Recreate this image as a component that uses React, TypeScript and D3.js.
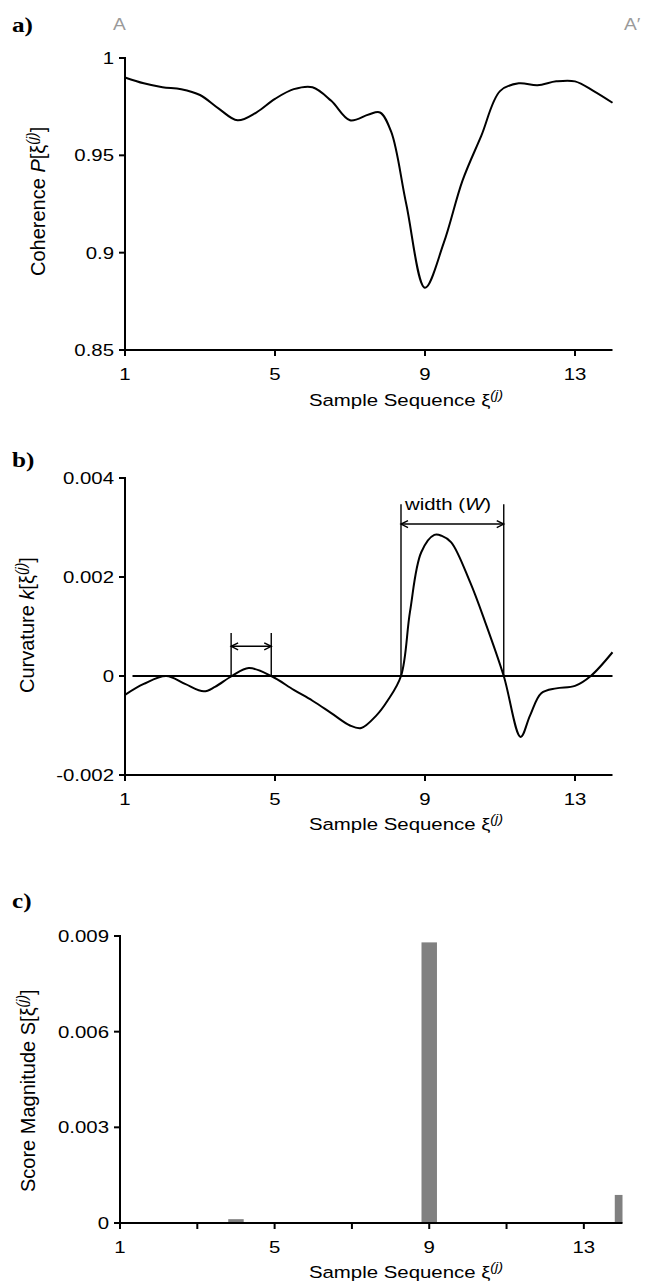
import React from 'react';
import * as d3 from 'd3';

// ---- data ----
const coherenceX = [1, 1.5, 2, 2.5, 3, 3.5, 4, 4.5, 5, 5.5, 6, 6.5, 7, 7.5, 7.8, 8.1, 8.5, 9, 9.5, 10, 10.5, 11, 11.5, 12, 12.5, 13, 13.5, 14];
const coherenceY = [0.99, 0.987, 0.985, 0.984, 0.981, 0.974, 0.968, 0.972, 0.979, 0.984, 0.985, 0.978, 0.968, 0.971, 0.972, 0.962, 0.925, 0.882, 0.905, 0.937, 0.96, 0.983, 0.987, 0.986, 0.988, 0.988, 0.983, 0.977];

const curvatureX = [1, 1.5, 2.1, 2.6, 3.1, 3.4, 3.85, 4.3, 4.9, 5.5, 6, 6.5, 7, 7.3, 7.7, 8, 8.36, 8.6, 8.9, 9.25, 9.45, 9.7, 10.2, 10.6, 11.1, 11.55, 11.8, 12.1, 12.5, 13, 13.42, 14];
const curvatureY = [-0.00038, -0.00016, 0, -0.00016, -0.00031, -0.00022, 0, 0.00016, 0, -0.00028, -0.0005, -0.00075, -0.001, -0.00105, -0.0008, -0.0005, 0, 0.0013, 0.0025, 0.00285, 0.00283, 0.0027, 0.0019, 0.0011, 0, -0.00123, -0.0008, -0.00035, -0.00025, -0.0002, 0, 0.00048];

const scoreX = [4, 9, 14];
const scoreY = [0.00012, 0.0088, 0.00088];

const xTicksAB = [1, 5, 9, 13];
const xTicksC = [1, 3, 5, 7, 9, 11, 13];
const xTickLabelsC = [1, 5, 9, 13];
const yTicksA = [0.85, 0.9, 0.95, 1];
const yTickLabelsA = ['0.85', '0.9', '0.95', '1'];
const yTicksB = [-0.002, 0, 0.002, 0.004];
const yTickLabelsB = ['-0.002', '0', '0.002', '0.004'];
const yTicksC = [0, 0.003, 0.006, 0.009];
const yTickLabelsC = ['0', '0.003', '0.006', '0.009'];

// width annotations (x from / to, bracket top, arrow level)
const bracketFrom = [3.83, 8.36];
const bracketTo = [4.9, 11.1];
const bracketTop = [0.00087, 0.00347];
const bracketArrow = [0.0006, 0.00307];

const SANS = "'Liberation Sans', Arial, Helvetica, sans-serif";
const SERIF = "'Liberation Serif', 'Times New Roman', serif";
const SX = 1.2;

function HText({ x, y, anchor = 'middle', size = 17, fill = '#000', family = SANS, weight = 'normal', children }: any) {
  return (
    <text transform={`translate(${x},${y}) scale(${SX},1)`} textAnchor={anchor} fontSize={size} fill={fill} fontFamily={family} fontWeight={weight}>
      {children}
    </text>
  );
}

function VText({ x, y, children }: any) {
  return (
    <text transform={`translate(${x},${y}) rotate(-90)`} textAnchor="start" fontSize={20} fontFamily={SANS}>
      {children}
    </text>
  );
}

const Sup = ({ size = 12, dy = -7 }: any) => (
  <tspan fontSize={size} dy={dy} fontStyle="italic">(j)</tspan>
);

function XTitle({ y }: any) {
  return (
    <HText x={406} y={y}>
      Sample Sequence ξ<Sup />
    </HText>
  );
}

function Axes({ x, y, xTicks, xLabels, yTicks, yLabels }: any) {
  const [x0, x1] = x.range();
  const [y0, y1] = y.range();
  return (
    <g>
      <line x1={x0} x2={x1} y1={y0} y2={y0} stroke="#000" strokeWidth={2} />
      <line x1={x0} x2={x0} y1={y0 + 1} y2={y1 - 1} stroke="#000" strokeWidth={2} />
      {xTicks.map((t: number) => (
        <line key={'xt' + t} x1={x(t)} x2={x(t)} y1={y0} y2={y0 + 6} stroke="#000" strokeWidth={2} />
      ))}
      {xLabels.map((t: number) => (
        <HText key={'xl' + t} x={x(t)} y={y0 + 30}>{t}</HText>
      ))}
      {yTicks.map((t: number, i: number) => (
        <g key={'yt' + i}>
          <line x1={x0 - 6} x2={x0} y1={y(t)} y2={y(t)} stroke="#000" strokeWidth={2} />
          <HText x={x0 - 11} y={y(t) + 6} anchor="end">{yLabels[i]}</HText>
        </g>
      ))}
    </g>
  );
}

export default function App() {
  // Panel a
  const xa = d3.scaleLinear().domain([1, 14]).range([125, 612.5]);
  const ya = d3.scaleLinear().domain([0.85, 1]).range([350, 58]);
  const lineA = d3.line<number>().x((d, i) => xa(coherenceX[i])).y((d) => ya(d)).curve(d3.curveCatmullRom.alpha(0.5));

  // Panel b
  const xb = d3.scaleLinear().domain([1, 14]).range([125, 612.5]);
  const yb = d3.scaleLinear().domain([-0.002, 0.004]).range([775, 478]);
  const lineB = d3.line<number>().x((d, i) => xb(curvatureX[i])).y((d) => yb(d)).curve(d3.curveCatmullRom.alpha(0.5));

  // Panel c
  const xc = d3.scaleLinear().domain([1, 14]).range([120, 622.5]);
  const yc = d3.scaleLinear().domain([0, 0.009]).range([1223, 936]);
  const barW = xc(1.4) - xc(1);

  const arrowHead = (px: number, py: number, dir: number) =>
    `M${px + dir * 7},${py - 3.5} L${px},${py} L${px + dir * 7},${py + 3.5}`;

  return (
    <svg width={649} height={1283} style={{ position: 'absolute', left: 0, top: 0, background: '#fff' }}>
      <rect x={0} y={0} width={649} height={1283} fill="#fff" />
      <defs>
        <clipPath id="clipC">
          <rect x={xc(1)} y={yc(0.009) - 10} width={xc(14) - xc(1)} height={yc(0) - yc(0.009) + 10} />
        </clipPath>
      </defs>

      {/* Panel a */}
      <HText x={12} y={32} anchor="start" size={21} family={SERIF} weight="bold">a)</HText>
      <HText x={113} y={30} anchor="start" size={16} fill="#9a9a9a">A</HText>
      <HText x={624} y={30} anchor="start" size={16} fill="#9a9a9a">A′</HText>
      <Axes x={xa} y={ya} xTicks={xTicksAB} xLabels={xTicksAB} yTicks={yTicksA} yLabels={yTickLabelsA} />
      <path d={lineA(coherenceY) || ''} fill="none" stroke="#000" strokeWidth={2} />
      <VText x={45} y={276}>
        Coherence <tspan fontStyle="italic">P</tspan>[ξ<Sup size={14} dy={-8} /><tspan dy={8}>]</tspan>
      </VText>
      <XTitle y={406} />

      {/* Panel b */}
      <HText x={12} y={467} anchor="start" size={21} family={SERIF} weight="bold">b)</HText>
      <Axes x={xb} y={yb} xTicks={xTicksAB} xLabels={xTicksAB} yTicks={yTicksB} yLabels={yTickLabelsB} />
      <line x1={xb(1.2)} x2={xb(14)} y1={yb(0)} y2={yb(0)} stroke="#000" strokeWidth={2} />
      <path d={lineB(curvatureY) || ''} fill="none" stroke="#000" strokeWidth={2} />
      {bracketFrom.map((f, i) => (
        <g key={'br' + i} stroke="#000" strokeWidth={1.4} fill="none">
          <line x1={xb(f)} x2={xb(f)} y1={yb(bracketTop[i])} y2={yb(0)} />
          <line x1={xb(bracketTo[i])} x2={xb(bracketTo[i])} y1={yb(bracketTop[i])} y2={yb(0)} />
          <line x1={xb(f)} x2={xb(bracketTo[i])} y1={yb(bracketArrow[i])} y2={yb(bracketArrow[i])} />
          <path d={arrowHead(xb(f), yb(bracketArrow[i]), 1)} />
          <path d={arrowHead(xb(bracketTo[i]), yb(bracketArrow[i]), -1)} />
        </g>
      ))}
      <HText x={xb(bracketFrom[1]) + 4} y={yb(0.00335)} anchor="start">
        width (<tspan fontStyle="italic">W</tspan>)
      </HText>
      <VText x={34} y={693}>
        Curvature <tspan fontStyle="italic">k</tspan>[ξ<Sup size={14} dy={-8} /><tspan dy={8}>]</tspan>
      </VText>
      <XTitle y={830} />

      {/* Panel c */}
      <HText x={12} y={908} anchor="start" size={21} family={SERIF} weight="bold">c)</HText>
      <g clipPath="url(#clipC)">
        {scoreY.map((v, i) => (
          <rect key={'bar' + i} x={xc(scoreX[i]) - barW / 2} y={yc(v)} width={barW} height={yc(0) - yc(v)} fill="#808080" />
        ))}
      </g>
      <Axes x={xc} y={yc} xTicks={xTicksC} xLabels={xTickLabelsC} yTicks={yTicksC} yLabels={yTickLabelsC} />
      <VText x={35} y={1192}>
        Score Magnitude S[ξ<Sup size={14} dy={-8} /><tspan dy={8}>]</tspan>
      </VText>
      <XTitle y={1278} />
    </svg>
  );
}
